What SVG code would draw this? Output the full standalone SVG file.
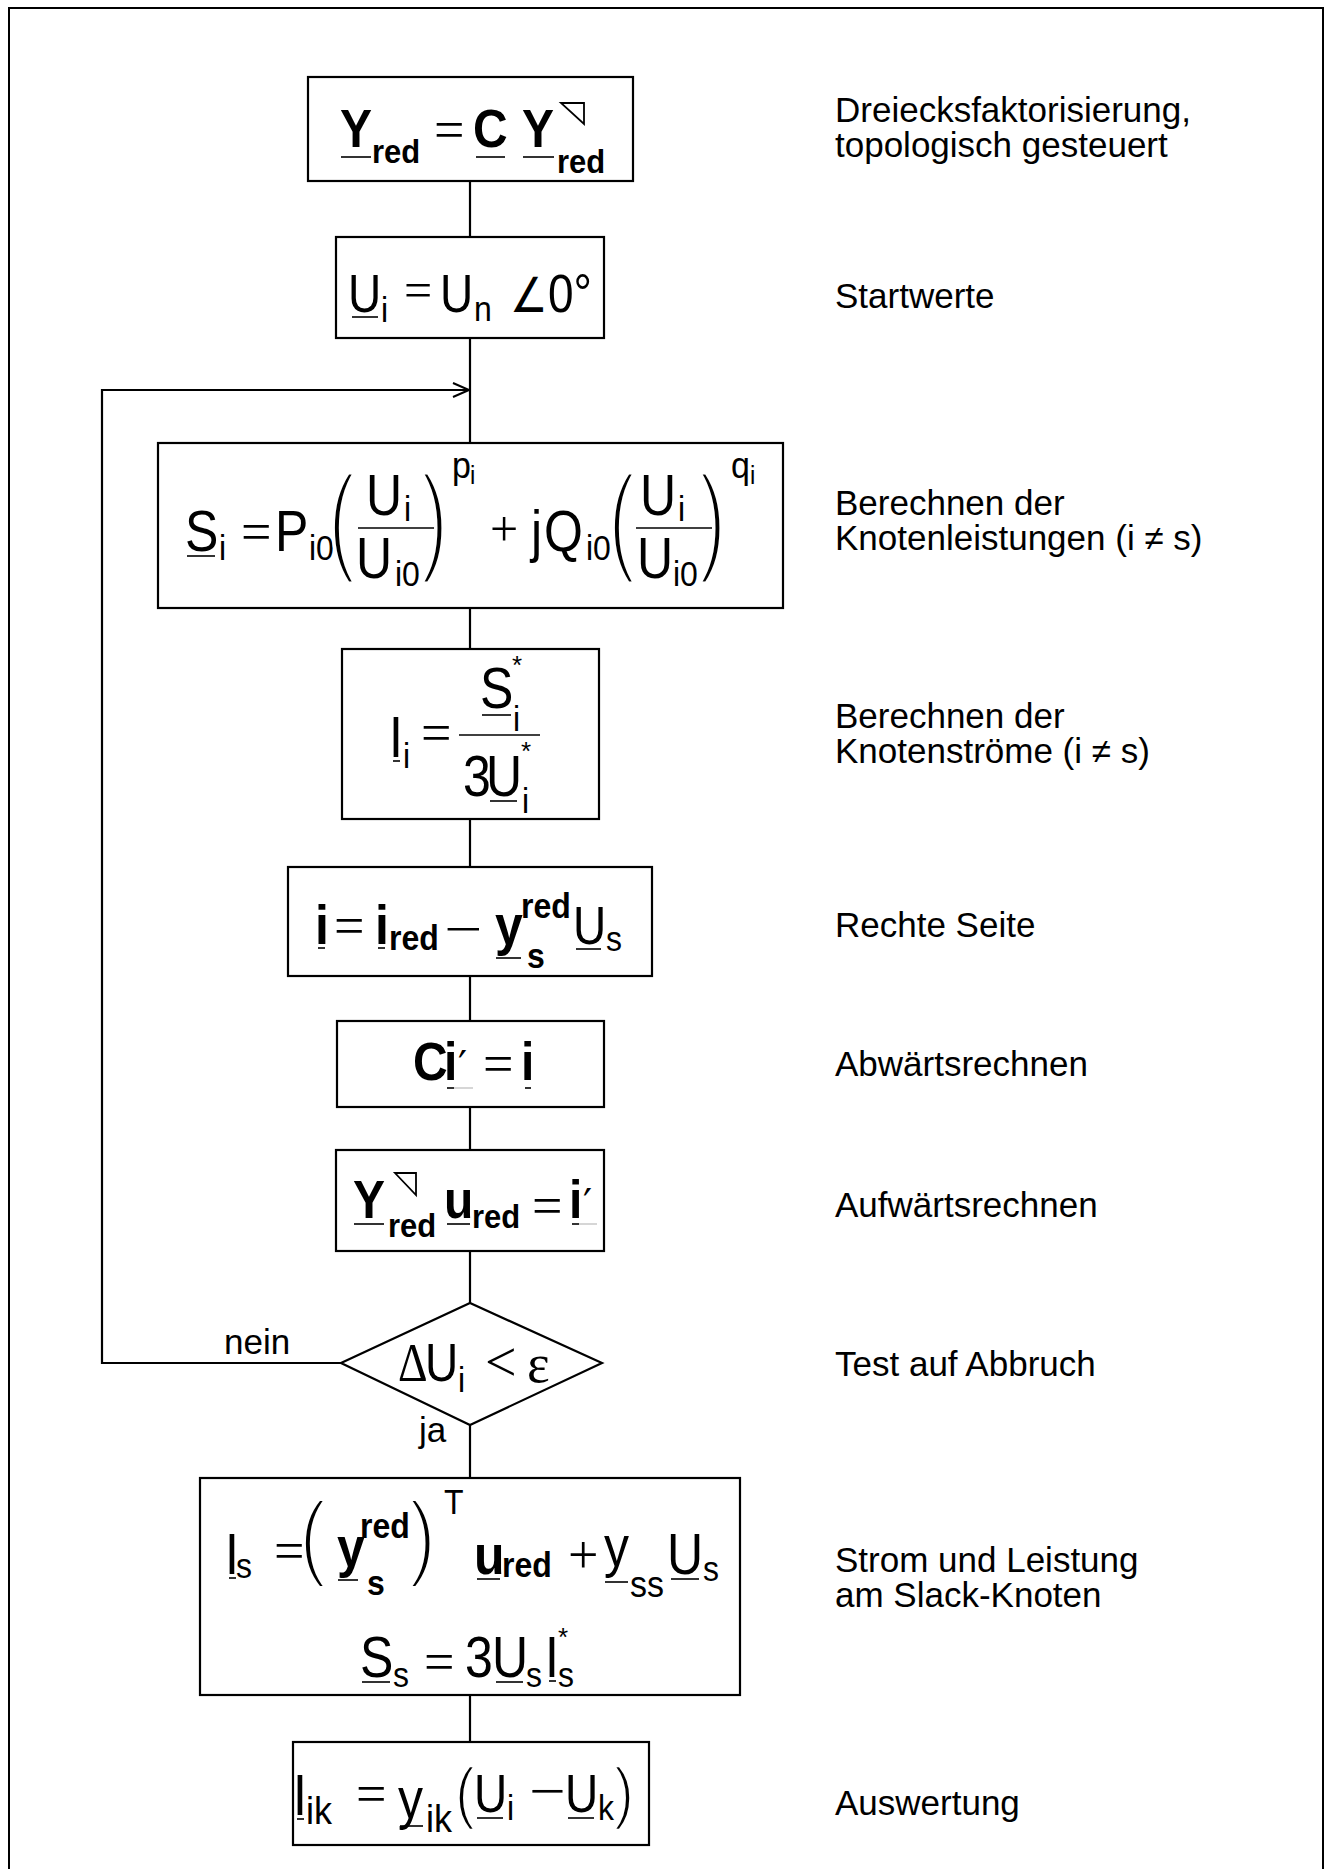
<svg xmlns="http://www.w3.org/2000/svg" width="1333" height="1869" viewBox="0 0 1333 1869">
<style>
.frame{fill:none;stroke:#000;stroke-width:2}
.box{fill:#fff;stroke:#000;stroke-width:2.2}
.ln{fill:none;stroke:#000;stroke-width:2.2}
.ul{stroke:#000;stroke-width:1.6}
.gr{stroke:#ccc;stroke-width:1.6}
.tri{fill:none;stroke:#000;stroke-width:1.8}
text{font-family:"Liberation Sans",Arial,sans-serif;fill:#000}
.lbl{font-size:35px}
.m{font-size:50px}
.m46{font-size:46px}
.b{font-weight:bold}
.s{font-size:32px}
.ss{font-size:24px}
.sym{font-family:"Liberation Serif","Times New Roman",serif}
.dj{font-family:"DejaVu Sans",sans-serif}
.par{font-size:44px;stroke:#fff;stroke-width:1.8}
.par2{font-size:60px;stroke:#fff;stroke-width:2}
.st{font-size:26px}
</style>
<defs>
<marker id="arr" markerWidth="20" markerHeight="16" refX="18" refY="8" orient="auto" markerUnits="userSpaceOnUse">
<path d="M2,1 L18,8 L2,15" fill="none" stroke="#000" stroke-width="2"/>
</marker>
</defs>
<rect x="0" y="0" width="1333" height="1869" fill="#fff"/>
<rect class="frame" x="9" y="8" width="1314" height="1900"/>

<g id="connectors">
<line class="ln" x1="470" y1="181" x2="470" y2="237"/>
<line class="ln" x1="470" y1="338" x2="470" y2="443"/>
<line class="ln" x1="470" y1="608" x2="470" y2="649"/>
<line class="ln" x1="470" y1="819" x2="470" y2="867"/>
<line class="ln" x1="470" y1="976" x2="470" y2="1021"/>
<line class="ln" x1="470" y1="1107" x2="470" y2="1150"/>
<line class="ln" x1="470" y1="1251" x2="470" y2="1303"/>
<line class="ln" x1="470" y1="1425" x2="470" y2="1478"/>
<line class="ln" x1="470" y1="1695" x2="470" y2="1742"/>
<polyline class="ln" points="341,1363 102,1363 102,390 469,390" marker-end="url(#arr)"/>
<text class="lbl" x="224" y="1354">nein</text>
<text class="lbl" x="419" y="1442">ja</text>
</g>

<g id="n1">
<rect class="box" x="308" y="77" width="325" height="104"/>
<text class="b" font-size="48" transform="translate(340,147) scale(1,1.13)">Y</text>
<line class="ul" x1="341" y1="157" x2="371" y2="157"/>
<text class="b" font-size="31" transform="translate(372,163) scale(1,1.1)">red</text>
<text class="sym" font-size="54" x="434" y="148">=</text>
<text class="b" font-size="48" transform="translate(473,147) scale(1,1.13)">C</text>
<line class="ul" x1="476" y1="157" x2="505" y2="157"/>
<text class="b" font-size="48" transform="translate(522,147) scale(1,1.13)">Y</text>
<line class="ul" x1="523" y1="157" x2="554" y2="157"/>
<text class="b" font-size="31" transform="translate(557,173) scale(1,1.1)">red</text>
<polygon class="tri" points="561,103 584,103 584,124"/>
</g>

<g id="n2">
<rect class="box" x="336" y="237" width="268" height="101"/>
<text class="m46" transform="translate(348,312) scale(1,1.18)">U</text>
<line class="ul" x1="352" y1="317" x2="378" y2="317"/>
<text class="s" transform="translate(381,322) scale(1,1.1)">i</text>
<text class="sym" font-size="50" x="404" y="307">=</text>
<text class="m46" transform="translate(440,312) scale(1,1.18)">U</text>
<text class="s" transform="translate(474,321) scale(1,1.1)">n</text>
<text class="dj" font-size="42" transform="translate(510,312) scale(1,1.15)">∠</text>
<text class="m46" transform="translate(548,312) scale(1,1.18)">0°</text>
</g>

<g id="n3">
<rect class="box" x="158" y="443" width="625" height="165"/>
<text class="m" transform="translate(185,551) scale(1,1.15)">S</text>
<line class="ul" x1="187" y1="556" x2="215" y2="556"/>
<text class="s" transform="translate(219,560) scale(1,1.1)">i</text>
<text class="sym" font-size="54" x="241" y="550">=</text>
<text class="m" transform="translate(275,551) scale(1,1.15)">P</text>
<text class="s" transform="translate(309,560) scale(1,1.1)">i0</text>
<text class="par" transform="translate(328,558.7) scale(1.9,2.73)">(</text>
<line class="ul" x1="358" y1="528" x2="436" y2="528"/>
<text class="m" transform="translate(366,515) scale(1,1.15)">U</text>
<text class="s" transform="translate(404,521) scale(1,1.1)">i</text>
<text class="m" transform="translate(356,578) scale(1,1.15)">U</text>
<text class="s" transform="translate(395,586) scale(1,1.1)">i0</text>
<text class="par" transform="translate(420.5,558.7) scale(1.9,2.73)">)</text>
<text font-size="34" transform="translate(452,478) scale(1,1.1)">p</text>
<text class="ss" transform="translate(470,484) scale(1,1.1)">i</text>
<text class="sym" font-size="50" x="490" y="546">+</text>
<text class="m" transform="translate(531,551) scale(1,1.15)">j</text>
<text class="m" transform="translate(544,551) scale(1,1.15)">Q</text>
<text class="s" transform="translate(586,560) scale(1,1.1)">i0</text>
<text class="par" transform="translate(608,558.7) scale(1.9,2.73)">(</text>
<line class="ul" x1="636" y1="528" x2="712" y2="528"/>
<text class="m" transform="translate(640,515) scale(1,1.15)">U</text>
<text class="s" transform="translate(678,521) scale(1,1.1)">i</text>
<text class="m" transform="translate(637,578) scale(1,1.15)">U</text>
<text class="s" transform="translate(673,586) scale(1,1.1)">i0</text>
<text class="par" transform="translate(698.5,558.7) scale(1.9,2.73)">)</text>
<text font-size="34" transform="translate(731,478) scale(1,1.1)">q</text>
<text class="ss" transform="translate(750,484) scale(1,1.1)">i</text>
</g>

<g id="n4">
<rect class="box" x="342" y="649" width="257" height="170"/>
<text class="m" transform="translate(389,757) scale(1,1.15)">I</text>
<line class="ul" x1="393" y1="761" x2="400" y2="761"/>
<text class="s" transform="translate(403,768) scale(1,1.1)">i</text>
<text class="sym" font-size="54" x="421" y="751">=</text>
<line class="ul" x1="459" y1="735" x2="540" y2="735"/>
<text class="m" transform="translate(480,708) scale(1,1.15)">S</text>
<line class="ul" x1="482" y1="715" x2="511" y2="715"/>
<text class="s" transform="translate(513,731) scale(1,1.1)">i</text>
<text class="st" x="512" y="674">*</text>
<text class="m" transform="translate(463,796) scale(1,1.15)">3</text>
<text class="m" transform="translate(486,796) scale(1,1.15)">U</text>
<line class="ul" x1="490" y1="801" x2="517" y2="801"/>
<text class="s" transform="translate(522,813) scale(1,1.1)">i</text>
<text class="st" x="521" y="760">*</text>
</g>

<g id="n5">
<rect class="box" x="288" y="867" width="364" height="109"/>
<text class="b" font-size="50" transform="translate(315,944) scale(1,1.1)">i</text>
<line class="ul" x1="318" y1="948" x2="325" y2="948"/>
<text class="sym" font-size="54" x="334" y="944">=</text>
<text class="b" font-size="50" transform="translate(375,944) scale(1,1.1)">i</text>
<line class="ul" x1="378" y1="948" x2="385" y2="948"/>
<text class="b" font-size="32" transform="translate(389,950) scale(1,1.1)">red</text>
<text class="sym" font-size="50" transform="translate(444,946) scale(1.35,1)">−</text>
<text class="b" font-size="50" transform="translate(495,944) scale(1,1.1)">y</text>
<line class="ul" x1="496" y1="958" x2="521" y2="958"/>
<text class="b" font-size="32" transform="translate(521,918) scale(1,1.1)">red</text>
<text class="b" font-size="32" transform="translate(527,968) scale(1,1.1)">s</text>
<text class="m46" transform="translate(573,944) scale(1,1.18)">U</text>
<line class="ul" x1="576" y1="949" x2="601" y2="949"/>
<text class="s" transform="translate(606,951) scale(1,1.1)">s</text>
</g>

<g id="n6">
<rect class="box" x="337" y="1021" width="267" height="86"/>
<text class="b" font-size="48" transform="translate(413,1080) scale(1,1.13)">C</text>
<text class="b" font-size="48" transform="translate(444,1080) scale(1,1.13)">i</text>
<text class="dj" font-size="40" x="458" y="1080">′</text>
<line class="ul" x1="447" y1="1088" x2="454" y2="1088"/>
<line class="gr" x1="454" y1="1088" x2="473" y2="1088"/>
<text class="sym" font-size="54" x="483" y="1082">=</text>
<text class="b" font-size="48" transform="translate(521,1080) scale(1,1.13)">i</text>
<line class="ul" x1="525" y1="1088" x2="531" y2="1088"/>
</g>

<g id="n7">
<rect class="box" x="336" y="1150" width="268" height="101"/>
<text class="b" font-size="48" transform="translate(353,1218) scale(1,1.13)">Y</text>
<line class="ul" x1="354" y1="1224" x2="384" y2="1224"/>
<polygon class="tri" points="395,1173 416,1173 416,1195"/>
<text class="b" font-size="31" transform="translate(388,1237) scale(1,1.1)">red</text>
<text class="b" font-size="48" transform="translate(444,1218) scale(1,1.13)">u</text>
<line class="ul" x1="447" y1="1224" x2="470" y2="1224"/>
<text class="b" font-size="31" transform="translate(472,1228) scale(1,1.1)">red</text>
<text class="sym" font-size="54" x="532" y="1224">=</text>
<text class="b" font-size="48" transform="translate(569,1218) scale(1,1.13)">i</text>
<line class="ul" x1="572" y1="1224" x2="579" y2="1224"/>
<line class="gr" x1="579" y1="1224" x2="597" y2="1224"/>
<text class="dj" font-size="40" x="583" y="1218">′</text>
</g>

<g id="n8">
<polygon class="box" points="341,1363 470,1303 602,1363 470,1425"/>
<text class="sym" font-size="46" transform="translate(398,1381) scale(1,1.18)">Δ</text>
<text class="m46" transform="translate(425,1381) scale(1,1.18)">U</text>
<text class="s" transform="translate(458,1392) scale(1,1.1)">i</text>
<text class="sym" font-size="56" x="485" y="1381">&lt;</text>
<text class="sym" font-size="54" x="527" y="1382">ε</text>
</g>

<g id="n9">
<rect class="box" x="200" y="1478" width="540" height="217"/>
<text class="m" transform="translate(225,1574) scale(1,1.15)">I</text>
<line class="ul" x1="229" y1="1578" x2="236" y2="1578"/>
<text class="s" transform="translate(236,1578) scale(1,1.1)">s</text>
<text class="sym" font-size="54" x="274" y="1569">=</text>
<text class="par" transform="translate(299,1568.4) scale(1.9,2.13)">(</text>
<text class="b" font-size="50" transform="translate(337,1566) scale(1,1.1)">y</text>
<line class="ul" x1="338" y1="1580" x2="358" y2="1580"/>
<text class="b" font-size="32" transform="translate(360,1538) scale(1,1.1)">red</text>
<text class="b" font-size="32" transform="translate(367,1595) scale(1,1.1)">s</text>
<text class="par" transform="translate(408.5,1568.4) scale(1.9,2.13)">)</text>
<text font-size="32" transform="translate(444,1514) scale(1,1.1)">T</text>
<text class="b" font-size="50" transform="translate(474,1574) scale(1,1.1)">u</text>
<line class="ul" x1="477" y1="1579" x2="500" y2="1579"/>
<text class="b" font-size="32" transform="translate(502,1577) scale(1,1.1)">red</text>
<text class="sym" font-size="54" x="568" y="1573">+</text>
<text class="m" transform="translate(604,1566) scale(1,1.15)">y</text>
<line class="ul" x1="605" y1="1582" x2="628" y2="1582"/>
<text font-size="34" transform="translate(630,1597) scale(1,1.1)">ss</text>
<text class="m" transform="translate(667,1574) scale(1,1.15)">U</text>
<line class="ul" x1="671" y1="1579" x2="699" y2="1579"/>
<text class="s" transform="translate(703,1581) scale(1,1.1)">s</text>
<text class="m" transform="translate(360,1677) scale(1,1.15)">S</text>
<line class="ul" x1="362" y1="1682" x2="390" y2="1682"/>
<text class="s" transform="translate(393,1687) scale(1,1.1)">s</text>
<text class="sym" font-size="54" x="424" y="1680">=</text>
<text class="m" transform="translate(465,1677) scale(1,1.15)">3</text>
<text class="m" transform="translate(492,1677) scale(1,1.15)">U</text>
<line class="ul" x1="496" y1="1682" x2="523" y2="1682"/>
<text class="s" transform="translate(526,1687) scale(1,1.1)">s</text>
<text class="m" transform="translate(545,1677) scale(1,1.15)">I</text>
<line class="ul" x1="549" y1="1681" x2="556" y2="1681"/>
<text class="s" transform="translate(558,1687) scale(1,1.1)">s</text>
<text class="st" x="558" y="1646">*</text>
</g>

<g id="n10">
<rect class="box" x="293" y="1742" width="356" height="103"/>
<text class="m" transform="translate(293,1815) scale(1,1.15)">I</text>
<line class="ul" x1="297" y1="1819" x2="304" y2="1819"/>
<text font-size="36" transform="translate(306,1824) scale(1,1.1)">ik</text>
<text class="sym" font-size="54" x="356" y="1812">=</text>
<text class="m" transform="translate(398,1818) scale(1,1.15)">y</text>
<line class="ul" x1="400" y1="1826" x2="423" y2="1826"/>
<text font-size="36" transform="translate(426,1832) scale(1,1.1)">ik</text>
<text class="par2" transform="translate(455,1816) scale(1,1.14)">(</text>
<text class="m46" transform="translate(474,1812) scale(1,1.18)">U</text>
<line class="ul" x1="477" y1="1818" x2="503" y2="1818"/>
<text class="s" transform="translate(507,1820) scale(1,1.1)">i</text>
<text class="sym" font-size="54" transform="translate(529,1809) scale(1.2,1)">−</text>
<text class="m46" transform="translate(565,1812) scale(1,1.18)">U</text>
<line class="ul" x1="568" y1="1818" x2="594" y2="1818"/>
<text class="s" transform="translate(598,1820) scale(1,1.1)">k</text>
<text class="par2" transform="translate(614,1816) scale(1,1.14)">)</text>
</g>

<g id="labels">
<text class="lbl" x="835" y="122">Dreiecksfaktorisierung,</text>
<text class="lbl" x="835" y="157">topologisch gesteuert</text>
<text class="lbl" x="835" y="308">Startwerte</text>
<text class="lbl" x="835" y="515">Berechnen der</text>
<text class="lbl" x="835" y="550">Knotenleistungen (i ≠ s)</text>
<text class="lbl" x="835" y="728">Berechnen der</text>
<text class="lbl" x="835" y="763">Knotenströme (i ≠ s)</text>
<text class="lbl" x="835" y="937">Rechte Seite</text>
<text class="lbl" x="835" y="1076">Abwärtsrechnen</text>
<text class="lbl" x="835" y="1217">Aufwärtsrechnen</text>
<text class="lbl" x="835" y="1376">Test auf Abbruch</text>
<text class="lbl" x="835" y="1572">Strom und Leistung</text>
<text class="lbl" x="835" y="1607">am Slack-Knoten</text>
<text class="lbl" x="835" y="1815">Auswertung</text>
</g>
</svg>
